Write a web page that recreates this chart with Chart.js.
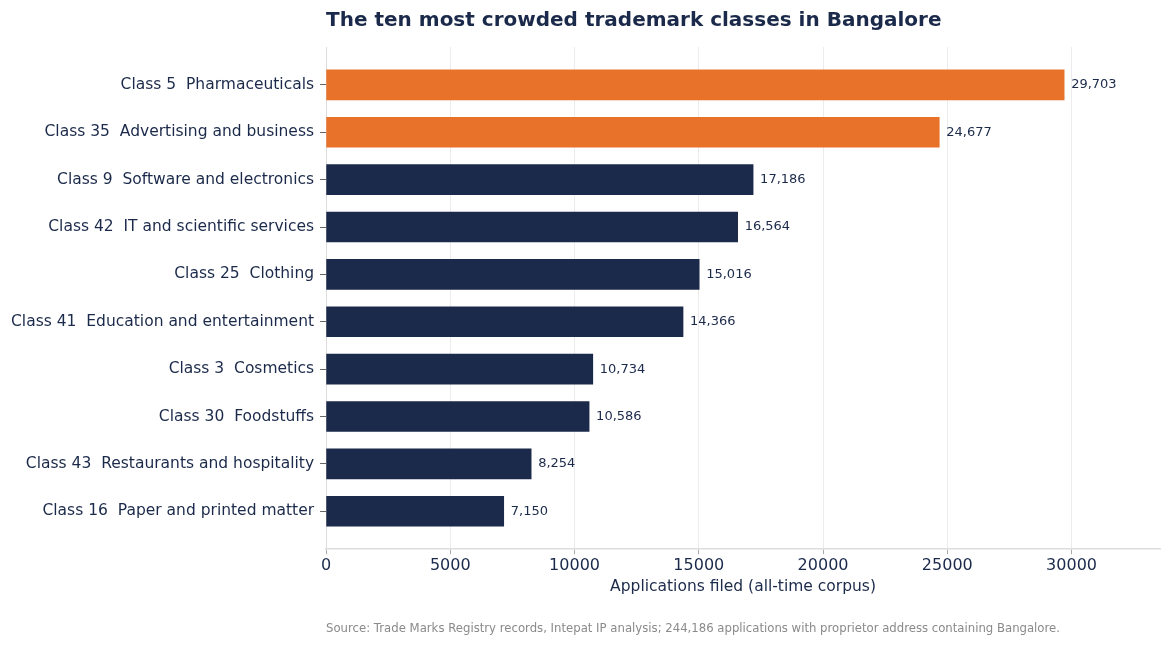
<!DOCTYPE html>
<html>
<head>
<meta charset="utf-8">
<script src="https://cdn.jsdelivr.net/npm/chart.js@4/dist/chart.umd.min.js"></script>
<style>
  html, body { margin: 0; padding: 0; background: #ffffff; }
  #wrap { width: 1170px; height: 646px; }
</style>
</head>
<body>
<div id="wrap"><canvas id="classChart"></canvas></div>
<script>
const classLabels = [
    'Class 5  Pharmaceuticals',
    'Class 35  Advertising and business',
    'Class 9  Software and electronics',
    'Class 42  IT and scientific services',
    'Class 25  Clothing',
    'Class 41  Education and entertainment',
    'Class 3  Cosmetics',
    'Class 30  Foodstuffs',
    'Class 43  Restaurants and hospitality',
    'Class 16  Paper and printed matter'
];
const applications = [29703, 24677, 17186, 16564, 15016, 14366, 10734, 10586, 8254, 7150];
const highlighted = [true, true, false, false, false, false, false, false, false, false];
const xTicks = [0, 5000, 10000, 15000, 20000, 25000, 30000];

const NAVY = '#1b2a4a';
const ORANGE = '#e8722a';
const FONT = "'DejaVu Sans', sans-serif";

// write the count at the end of each bar
const valueLabels = {
    id: 'valueLabels',
    afterDatasetsDraw(chart) {
        const ctx = chart.ctx;
        const meta = chart.getDatasetMeta(0);
        ctx.save();
        ctx.font = '13px ' + FONT;
        ctx.fillStyle = NAVY;
        ctx.textBaseline = 'middle';
        ctx.textAlign = 'left';
        meta.data.forEach((bar, i) => {
            ctx.fillText(applications[i].toLocaleString('en-US'), bar.x + 7, bar.y);
        });
        ctx.restore();
    }
};

new Chart(document.getElementById('classChart'), {
    type: 'bar',
    data: {
        datasets: [{
            data: applications.map((v, i) => ({ x: v, y: i })),
            backgroundColor: highlighted.map(h => h ? ORANGE : NAVY),
            barThickness: 30
        }]
    },
    options: {
        indexAxis: 'y',
        responsive: true,
        maintainAspectRatio: false,
        animation: false,
        layout: { padding: { left: 5, right: 10, top: 5, bottom: 10 } },
        scales: {
            x: {
                type: 'linear',
                min: 0,
                max: 33560,
                afterBuildTicks: axis => { axis.ticks = xTicks.map(v => ({ value: v })); },
                ticks: {
                    color: NAVY,
                    font: { family: FONT, size: 16 },
                    padding: 2,
                    maxRotation: 0,
                    callback: v => String(v)
                },
                grid: {
                    color: '#ececec',
                    lineWidth: 1,
                    tickColor: '#aaaaaa',
                    tickLength: 5
                },
                border: { color: '#dddddd', width: 1.5 },
                title: {
                    display: true,
                    text: 'Applications filed (all-time corpus)',
                    color: NAVY,
                    font: { family: FONT, size: 15.5 },
                    padding: { top: 0, bottom: 0 }
                }
            },
            y: {
                type: 'linear',
                reverse: true,
                offset: false,
                min: -0.8,
                max: 9.8,
                afterBuildTicks: axis => { axis.ticks = classLabels.map((_, i) => ({ value: i })); },
                ticks: {
                    color: NAVY,
                    font: { family: FONT, size: 15.5 },
                    padding: 6,
                    callback: v => classLabels[v]
                },
                grid: {
                    offset: false,
                    drawOnChartArea: false,
                    tickColor: '#666666',
                    tickLength: 6
                },
                border: { color: '#dddddd', width: 1 }
            }
        },
        plugins: {
            legend: { display: false },
            tooltip: { enabled: false },
            title: {
                display: true,
                text: 'The ten most crowded trademark classes in Bangalore',
                align: 'start',
                fullSize: false,
                color: NAVY,
                font: { family: FONT, size: 20, weight: 'bold' },
                padding: { top: 4, bottom: 14 }
            },
            subtitle: {
                display: true,
                position: 'bottom',
                text: 'Source: Trade Marks Registry records, Intepat IP analysis; 244,186 applications with proprietor address containing Bangalore.',
                align: 'start',
                fullSize: false,
                color: '#8a8a8a',
                font: { family: FONT, size: 11.7 },
                padding: { top: 26, bottom: 0 }
            }
        }
    },
    plugins: [valueLabels]
});
</script>
</body>
</html>
